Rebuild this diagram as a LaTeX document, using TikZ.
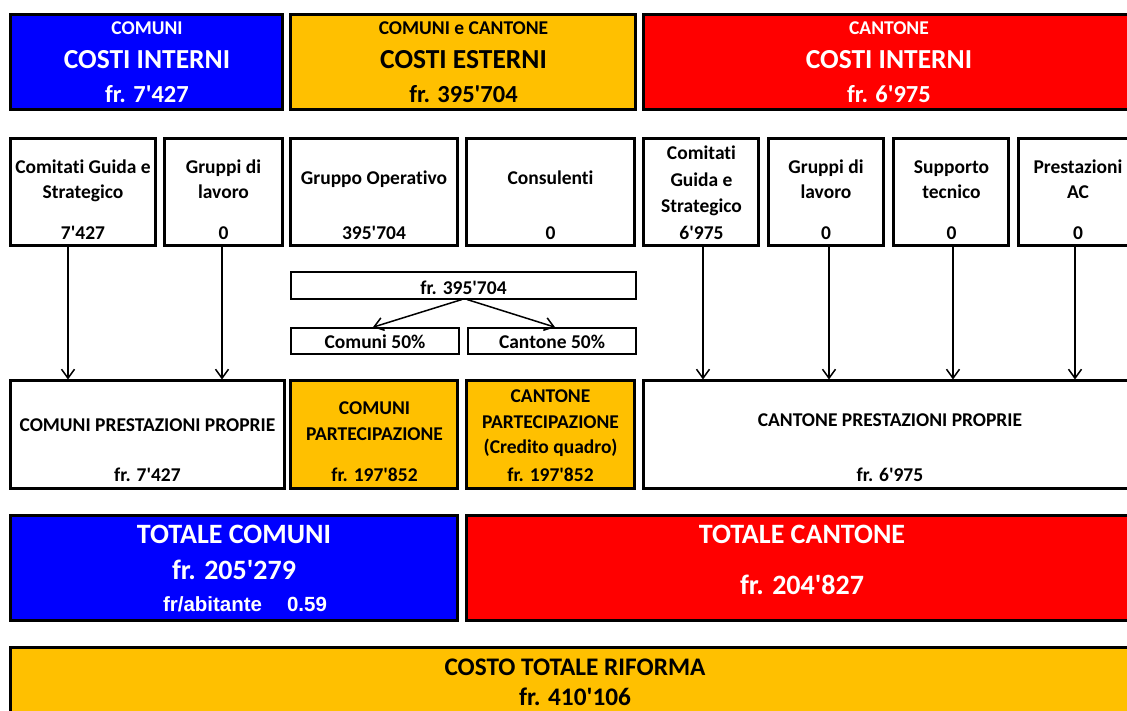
\documentclass[tikz,border=0pt]{standalone}
\usepackage{fontspec}
\setmainfont{Carlito}[Ligatures={NoCommon}]
\newfontfamily\arialfont{Liberation Sans}
\usetikzlibrary{arrows.meta}
\definecolor{cblue}{RGB}{0,0,255}
\definecolor{corange}{RGB}{255,192,0}
\definecolor{cred}{RGB}{255,0,0}
\newcommand\q{\textquotesingle}
\newcommand\bx[6]{\node[#6, minimum width={(#4-#2-3)*1pt}, minimum height={(#5-#3-3)*1pt}, anchor=north west] (#1) at (#2+1.5,#3+1.5) {};}
\begin{document}
\begin{tikzpicture}[x=1pt,y=-1pt,
  box/.style={draw=black, line width=3pt, rectangle, inner sep=0pt, outer sep=0pt, fill=white},
  thinbox/.style={box, line width=2pt},
  blue/.style={box, fill=cblue},
  orange/.style={box, fill=corange},
  red/.style={box, fill=cred},
  txt/.style={anchor=base, inner sep=0pt, outer sep=0pt, font=\bfseries\fontsize{19.5}{21}\selectfont},
  big/.style={txt, font=\bfseries\fontsize{27.5}{29}\selectfont},
  mid/.style={txt, font=\bfseries\fontsize{24.5}{26}\selectfont},
  huge/.style={txt, font=\bfseries\fontsize{28}{30}\selectfont},
  wt/.style={text=white},
  arr/.style={line width=1.5pt, -{Straight Barb[length=9pt,width=13pt,line width=1.5pt]}, shorten >=1pt}
]
\fill[white] (0,0) rectangle (1127,711);
\useasboundingbox (0,0) rectangle (1127,711);
\clip (0,0) rectangle (1127,711);

% Row 1
\bx{cb1}{9}{13}{284}{111}{blue}
\bx{ce1}{289}{13}{637}{111}{orange}
\bx{cr1}{642}{13}{1140}{111}{red}
\node[txt,wt] (t11) at (147,34.3) {COMUNI};
\node[big,wt] (t12) at (147,68.3) {COSTI INTERNI};
\node[mid,wt] (t13) at (147,103) {fr. 7\q427};
\node[txt] (t21) at (463.5,34.3) {COMUNI e CANTONE};
\node[big] (t22) at (463.5,68.3) {COSTI ESTERNI};
\node[mid] (t23) at (463.5,103) {fr. 395\q704};
\node[txt,wt] (t31) at (889,34.3) {CANTONE};
\node[big,wt] (t32) at (889,68.3) {COSTI INTERNI};
\node[mid,wt] (t33) at (889,103) {fr. 6\q975};

% Row 2
\bx{a1}{9}{137}{157}{247}{box}
\bx{a2}{163}{137}{284}{247}{box}
\bx{a3}{289}{137}{459}{247}{box}
\bx{a4}{465}{137}{636}{247}{box}
\bx{a5}{642}{137}{760}{247}{box}
\bx{a6}{767}{137}{885}{247}{box}
\bx{a7}{892}{137}{1010}{247}{box}
\bx{a8}{1017}{137}{1140}{247}{box}
\node[txt] (s11) at (83,173.3) {Comitati Guida e};
\node[txt] (s12) at (83,199) {Strategico};
\node[txt] (s13) at (83,240) {7\q427};
\node[txt] (s21) at (223.5,173.3) {Gruppi di};
\node[txt] (s22) at (223.5,199) {lavoro};
\node[txt] (s23) at (223.5,240) {0};
\node[txt] (s31) at (374,184.3) {Gruppo Operativo};
\node[txt] (s33) at (374,240) {395\q704};
\node[txt] (s41) at (550.5,184.3) {Consulenti};
\node[txt] (s43) at (550.5,240) {0};
\node[txt] (s51) at (701.5,159.5) {Comitati};
\node[txt] (s52) at (701.5,186.3) {Guida e};
\node[txt] (s53) at (701.5,213) {Strategico};
\node[txt] (s54) at (701.5,240) {6\q975};
\node[txt] (s61) at (826,173.3) {Gruppi di};
\node[txt] (s62) at (826,199) {lavoro};
\node[txt] (s63) at (826,240) {0};
\node[txt] (s71) at (951.5,173.3) {Supporto};
\node[txt] (s72) at (951.5,199) {tecnico};
\node[txt] (s73) at (951.5,240) {0};
\node[txt] (s81) at (1078,173.3) {Prestazioni};
\node[txt] (s82) at (1078,199) {AC};
\node[txt] (s83) at (1078,240) {0};

% Row 3
\bx{tot}{289}{271}{637}{301}{thinbox}
\bx{c50a}{289}{326}{460}{355}{thinbox}
\bx{c50b}{466}{326}{637}{355}{thinbox}
\node[txt] (r1) at (463.5,295) {fr. 395\q704};
\node[txt] (r2) at (375,348.3) {Comuni 50\%};
\node[txt] (r3) at (552,348.3) {Cantone 50\%};

% Row 4
\bx{p1}{9}{379}{286}{490}{box}
\bx{p2}{289}{379}{459}{490}{orange}
\bx{p3}{465}{379}{636}{490}{orange}
\bx{p4}{642}{379}{1140}{490}{box}
\node[txt] (q11) at (147.5,431.7) {COMUNI PRESTAZIONI PROPRIE};
\node[txt] (q12) at (147.5,481.7) {fr. 7\q427};
\node[txt] (q21) at (374.5,414) {COMUNI};
\node[txt] (q22) at (374.5,440) {PARTECIPAZIONE};
\node[txt] (q23) at (374.5,481.7) {fr. 197\q852};
\node[txt] (q31) at (550.5,402.3) {CANTONE};
\node[txt] (q32) at (550.5,428.3) {PARTECIPAZIONE};
\node[txt] (q33) at (550.5,453.3) {(Credito quadro)};
\node[txt] (q34) at (550.5,481.7) {fr. 197\q852};
\node[txt] (q41) at (890,426) {CANTONE PRESTAZIONI PROPRIE};
\node[txt] (q42) at (890,481.7) {fr. 6\q975};

% Row 5
\bx{tb}{9}{514}{459}{622}{blue}
\bx{tr}{465}{514}{1140}{622}{red}
\node[huge,wt] (u11) at (234,543.3) {TOTALE COMUNI};
\node[huge,wt] (u12) at (234,579.3) {fr. 205\q279};
\node[txt,wt,font=\arialfont\bfseries\fontsize{20.5}{22}\selectfont] (u13) at (245,611.7) {fr/abitante\hspace{25pt}0.59};
\node[huge,wt] (u21) at (802,543.3) {TOTALE CANTONE};
\node[huge,wt] (u22) at (802,594.5) {fr. 204\q827};

% Row 6
\bx{tt}{9}{646}{1140}{740}{orange}
\node[txt,font=\bfseries\fontsize{25.3}{27}\selectfont] (v1) at (575,675) {COSTO TOTALE RIFORMA};
\node[txt,font=\bfseries\fontsize{25.3}{27}\selectfont] (v2) at (575,705.5) {fr. 410\q106};

% arrows
\coordinate (x1) at (68,0);
\coordinate (x2) at (222,0);
\coordinate (x5) at (703,0);
\coordinate (x6) at (829,0);
\coordinate (x7) at (953,0);
\coordinate (x8) at (1075,0);
\coordinate (sa) at (462,0);
\coordinate (sb) at (467,0);
\coordinate (ea) at (372,0);
\coordinate (eb) at (556,0);
\draw[arr] (a1.south -| x1) -- (p1.north -| x1);
\draw[arr] (a2.south -| x2) -- (p1.north -| x2);
\draw[arr] (a5.south -| x5) -- (p4.north -| x5);
\draw[arr] (a6.south -| x6) -- (p4.north -| x6);
\draw[arr] (a7.south -| x7) -- (p4.north -| x7);
\draw[arr] (a8.south -| x8) -- (p4.north -| x8);
\draw[arr] (tot.south -| sa) -- (c50a.north -| ea);
\draw[arr] (tot.south -| sb) -- (c50b.north -| eb);
\end{tikzpicture}
\end{document}
